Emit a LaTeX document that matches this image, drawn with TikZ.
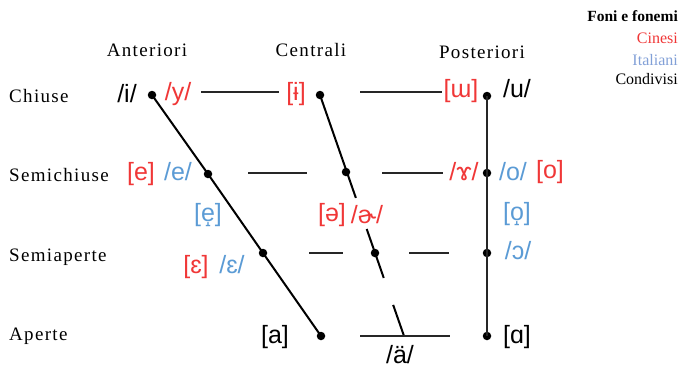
\documentclass[tikz,border=0pt]{standalone}
\usepackage{fontspec}
\setmainfont{Liberation Serif}
\newfontfamily\ipafont{Liberation Sans}
\newfontfamily\labfont[LetterSpace=7]{Liberation Serif}
\usetikzlibrary{calc}
\definecolor{cnred}{RGB}{240,55,55}
\definecolor{itblue}{RGB}{91,155,213}
\definecolor{legblue}{RGB}{130,160,215}
\begin{document}
\begin{tikzpicture}[x=1pt,y=-1pt,
  ipa/.style={font=\ipafont\fontsize{25}{25}\selectfont, inner sep=0pt, anchor=center},
  cn/.style={ipa, text=cnred},
  it/.style={ipa, text=itblue},
  sh/.style={ipa, text=black},
  rowlab/.style={font=\labfont\fontsize{19}{19}\selectfont, inner sep=0pt, anchor=west},
  collab/.style={font=\labfont\fontsize{19}{19}\selectfont, inner sep=0pt},
  leg/.style={font=\fontsize{16}{16}\selectfont, inner sep=0pt, anchor=base east},
  dotnode/.style={circle, fill=black, inner sep=0pt, minimum size=8.5pt},
  edge/.style={line width=2pt, black},
  rung/.style={line width=2pt, black!85}
]
\useasboundingbox (0,0) rectangle (680,367);

% legend
\node[leg, font=\bfseries\fontsize{15.5}{15.5}\selectfont] (lt) at (678,21) {Foni e fonemi};
\node[leg, text=cnred] (lc) at (678,43) {Cinesi};
\node[leg, text=legblue] (li) at (678,65) {Italiani};
\node[leg] (ls) at (678,84) {Condivisi};

% column headings
\node[collab] (ha) at (147,50) {Anteriori};
\node[collab] (hc) at (311,50) {Centrali};
\node[collab] (hp) at (482,52) {Posteriori};

% row labels
\node[rowlab] (r1) at (9,96) {Chiuse};
\node[rowlab] (r2) at (9,175) {Semichiuse};
\node[rowlab] (r3) at (9,257) {Semiaperte};
\node[rowlab] (r4) at (9,336) {Aperte};

% dots
\node[dotnode] (f1) at (152,95) {};
\node[dotnode] (f2) at (208,174) {};
\node[dotnode] (f3) at (263,253) {};
\node[dotnode] (f4) at (321,336) {};
\node[dotnode] (c1) at (320,95) {};
\node[dotnode] (c2) at (346,172) {};
\node[dotnode] (c3) at (375,253) {};
\coordinate (c4) at (404,336);
\node[dotnode] (b1) at (487,96) {};
\node[dotnode] (b2) at (487,173) {};
\node[dotnode] (b3) at (487,253) {};
\node[dotnode] (b4) at (487,336) {};

% front edge
\draw[edge] (f1.center) -- (f2.center) -- (f3.center) -- (f4.center);
% back edge
\draw[rung] (b1.center) -- (b2.center) -- (b3.center) -- (b4.center);
% central line with gaps
\draw[edge] (c1.center) -- ($(c1.center)!0.427!(c4)$);
\draw[edge] ($(c1.center)!0.556!(c4)$) -- ($(c1.center)!0.759!(c4)$);
\draw[edge] ($(c1.center)!0.871!(c4)$) -- (c4);

% horizontal rungs
\coordinate (h1a) at (201,92); \coordinate (h1b) at (279,92);
\coordinate (h1c) at (360,92); \coordinate (h1d) at (442,92);
\coordinate (h2a) at (248,173); \coordinate (h2b) at (307,173);
\coordinate (h2c) at (382,173); \coordinate (h2d) at (443,173);
\coordinate (h3a) at (309,253); \coordinate (h3b) at (343,253);
\coordinate (h3c) at (409,253); \coordinate (h3d) at (449,253);
\coordinate (h4a) at (360,336); \coordinate (h4b) at (450,336);
\draw[rung] (h1a) -- (h1b);
\draw[rung] (h1c) -- (h1d);
\draw[rung] (h2a) -- (h2b);
\draw[rung] (h2c) -- (h2d);
\draw[rung] (h3a) -- (h3b);
\draw[rung] (h3c) -- (h3d);
\draw[rung] (h4a) -- (h4b);

% close
\node[sh] (li1) at (127,94) {/i/};
\node[cn] (ly) at (178,94) {/y/};
\node[cn] (lbi) at (296,94) {[ɨ]};
\node[cn] (lmu) at (461,91) {[ɯ]};
\node[sh] (lu) at (517,89) {/u/};
% close-mid
\node[cn] (le1) at (141,174) {[e]};
\node[it] (le2) at (178,172) {/e/};
\node[it] (le3) at (208,215) {[e̝]};
\node[cn] (lrg) at (464,172) {/ɤ/};
\node[it] (lo1) at (513,172) {/o/};
\node[cn] (lo2) at (550,172) {[o]};
\node[it] (lo3) at (517,214) {[o̝]};
\node[cn] (lsc) at (332,215) {[ə]};
\node[cn] (lsr) at (367,215) {/ɚ/};
% open-mid
\node[cn] (leps1) at (196,267) {[ɛ]};
\node[it] (leps2) at (232,265) {/ɛ/};
\node[it] (lopo) at (518,251) {/ɔ/};
% open
\node[sh] (la) at (275,337) {[a]};
\node[sh, anchor=base] (lac) at (400,363) {/ä/};
\node[sh] (lal) at (517,337) {[ɑ]};
\end{tikzpicture}
\end{document}
